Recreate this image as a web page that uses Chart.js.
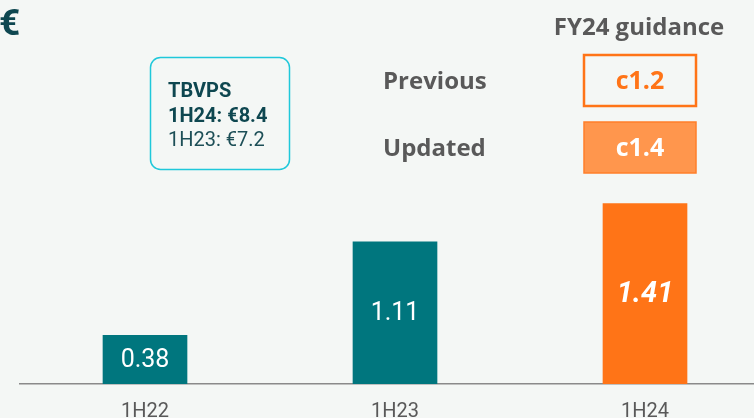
<!DOCTYPE html>
<html>
<head>
<meta charset="utf-8">
<script src="https://cdn.jsdelivr.net/npm/chart.js@4.4.1/dist/chart.umd.min.js"></script>
<style>
  html, body { margin:0; padding:0; background:#F4F7F5; overflow:hidden; width:754px; height:418px; }
  #wrap { position:absolute; left:0; top:0; width:770px; height:440px; }
</style>
</head>
<body>
<div id="wrap"><canvas id="c" width="770" height="440"></canvas></div>
<script>
const categories = ['1H22', '1H23', '1H24'];
const epsValues = [0.38, 1.11, 1.41];
const valueLabels = ['0.38', '1.11', '1.41'];
const guidanceRows = ['Previous', 'Updated'];
const guidanceValues = ['c1.2', 'c1.4'];
const tbvpsLines = ['TBVPS', '1H24: €8.4', '1H23: €7.2'];

const TEAL = '#00767E';
const ORANGE = '#FF7417';
const ORANGE_LIGHT = '#FF964D';
const GRAY = '#595959';
const DARK = '#0E4750';

const annotations = {
  id: 'annotations',
  beforeDraw(chart) {
    const ctx = chart.ctx;
    ctx.save();
    ctx.fillStyle = '#F4F7F5';
    ctx.fillRect(0, 0, chart.width, chart.height);
    ctx.restore();
  },
  afterDatasetsDraw(chart) {
    const ctx = chart.ctx;
    const meta = chart.getDatasetMeta(0);
    ctx.save();
    ctx.textAlign = 'center';
    ctx.textBaseline = 'middle';
    meta.data.forEach((bar, i) => {
      const cy = (bar.y + bar.base) / 2;
      ctx.fillStyle = '#FFFFFF';
      if (i === 2) {
        ctx.font = 'italic bold 29px Roboto';
      } else {
        ctx.font = '25px Roboto';
      }
      ctx.fillText(valueLabels[i], bar.x, cy + 1);
    });
    ctx.restore();
  },
  afterDraw(chart) {
    const ctx = chart.ctx;
    ctx.save();
    // Euro sign
    ctx.fillStyle = DARK;
    ctx.font = 'bold 37px Roboto';
    ctx.textAlign = 'left';
    ctx.textBaseline = 'alphabetic';
    ctx.fillText('€', -1, 35);

    // TBVPS box
    ctx.strokeStyle = '#1FC8DA';
    ctx.lineWidth = 1.5;
    ctx.beginPath();
    ctx.roundRect(150.5, 57.5, 139, 112, 10);
    ctx.stroke();
    ctx.fillStyle = DARK;
    ctx.font = 'bold 20px Roboto';
    ctx.fillText(tbvpsLines[0], 168, 97);
    ctx.fillText(tbvpsLines[1], 168, 122);
    ctx.font = '20px Roboto';
    ctx.fillStyle = '#1D4F57';
    ctx.fillText(tbvpsLines[2], 168, 146);

    // Guidance header
    ctx.fillStyle = GRAY;
    ctx.font = 'bold 24px "Open Sans"';
    ctx.textAlign = 'center';
    ctx.fillText('FY24 guidance', 639, 35);

    // Row labels
    ctx.textAlign = 'left';
    ctx.font = 'bold 24px "Open Sans"';
    ctx.fillText(guidanceRows[0], 383, 89);
    ctx.fillText(guidanceRows[1], 383, 156);

    // Previous box
    ctx.strokeStyle = ORANGE;
    ctx.lineWidth = 2.5;
    ctx.strokeRect(584, 55, 112, 51);
    // Updated box
    ctx.fillStyle = ORANGE_LIGHT;
    ctx.fillRect(584, 122, 112, 51);
    ctx.lineWidth = 1.5;
    ctx.strokeStyle = '#FF7F2A';
    ctx.strokeRect(584, 122, 112, 51);

    ctx.textAlign = 'center';
    ctx.font = 'bold 25px "Open Sans"';
    ctx.fillStyle = ORANGE;
    ctx.fillText(guidanceValues[0], 640, 89);
    ctx.fillStyle = '#FFFFFF';
    ctx.fillText(guidanceValues[1], 640, 156);
    ctx.restore();
  }
};

new Chart(document.getElementById('c'), {
  type: 'bar',
  data: {
    labels: categories,
    datasets: [{
      data: epsValues,
      backgroundColor: [TEAL, TEAL, ORANGE],
      borderWidth: 0,
      barThickness: 84
    }]
  },
  options: {
    responsive: false,
    animation: false,
    layout: { padding: { left: 20, right: 0, top: 0, bottom: 0 } },
    plugins: { legend: { display: false }, tooltip: { enabled: false } },
    scales: {
      x: {
        grid: { display: false, drawTicks: false },
        border: { display: true, color: '#8A8A8A', width: 1.5 },
        ticks: { color: GRAY, font: { family: 'Roboto', size: 20 }, padding: 16, maxRotation: 0 }
      },
      y: {
        display: false,
        min: 0,
        max: 3.0
      }
    }
  },
  plugins: [annotations]
});
</script>
</body>
</html>
